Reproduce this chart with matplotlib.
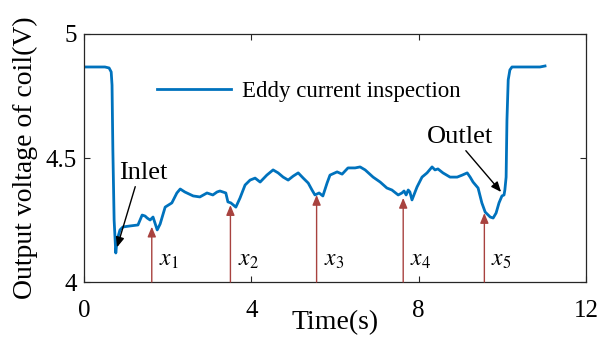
import numpy as np
import matplotlib
matplotlib.use('Agg')
import matplotlib.pyplot as plt

plt.rc('font', family='Liberation Serif')
plt.rc('mathtext', fontset='stix')

# Coil output trace
t = [0.00, 0.50, 0.60, 0.65, 0.67, 0.69, 0.72, 0.76, 0.79, 0.86, 0.93, 1.10,
     1.29, 1.39, 1.46, 1.51, 1.58, 1.65, 1.75, 1.82, 1.94, 2.10, 2.22, 2.30,
     2.41, 2.61, 2.77, 2.94, 3.08, 3.18, 3.25, 3.32, 3.39, 3.44, 3.51, 3.63,
     3.73, 3.85, 3.97, 4.09, 4.21, 4.37, 4.52, 4.64, 4.76, 4.88, 5.00, 5.12,
     5.24, 5.36, 5.45, 5.52, 5.62, 5.71, 5.81, 5.88, 6.05, 6.17, 6.31, 6.48,
     6.60, 6.72, 6.91, 7.08, 7.24, 7.36, 7.51, 7.60, 7.65, 7.70, 7.75, 7.79,
     7.84, 7.96, 8.08, 8.20, 8.32, 8.39, 8.46, 8.58, 8.75, 8.92, 9.04, 9.16,
     9.23, 9.30, 9.42, 9.51, 9.59, 9.71, 9.78, 9.85, 9.92, 9.99, 10.04, 10.06,
     10.09, 10.11, 10.14, 10.18, 10.23, 10.66, 10.90, 11.02]
v = [4.867, 4.867, 4.863, 4.847, 4.794, 4.532, 4.250, 4.117, 4.169, 4.210, 4.222, 4.226,
     4.230, 4.270, 4.266, 4.258, 4.250, 4.262, 4.210, 4.234, 4.302, 4.319, 4.359, 4.375,
     4.363, 4.347, 4.343, 4.359, 4.351, 4.363, 4.367, 4.363, 4.359, 4.323, 4.319, 4.302,
     4.339, 4.391, 4.411, 4.419, 4.403, 4.431, 4.452, 4.440, 4.423, 4.411, 4.427, 4.440,
     4.419, 4.399, 4.371, 4.351, 4.359, 4.347, 4.399, 4.431, 4.444, 4.435, 4.460, 4.460,
     4.464, 4.452, 4.423, 4.403, 4.379, 4.371, 4.351, 4.359, 4.367, 4.351, 4.371, 4.363,
     4.331, 4.383, 4.423, 4.440, 4.464, 4.452, 4.456, 4.440, 4.423, 4.423, 4.431, 4.440,
     4.423, 4.403, 4.379, 4.319, 4.282, 4.262, 4.258, 4.278, 4.319, 4.347, 4.351, 4.371,
     4.423, 4.653, 4.815, 4.855, 4.867, 4.867, 4.867, 4.871]

# Defect positions (arrows)
defect_t = [1.62, 3.50, 5.56, 7.63, 9.57]
defect_v = [4.223, 4.310, 4.351, 4.339, 4.278]
defect_labels = ['$x_1$', '$x_2$', '$x_3$', '$x_4$', '$x_5$']

fig = plt.figure(figsize=(6, 3.42), dpi=100)
ax = fig.add_axes([0.14, 0.1754, 0.8367, 0.7252])

ax.plot(t, v, color='#0072BD', lw=2.0, label='Eddy current inspection')

head = '-|>,head_length=0.6,head_width=0.25'
for xd, yd, lab in zip(defect_t, defect_v, defect_labels):
    ax.annotate('', xy=(xd, yd), xytext=(xd, 4.0),
                arrowprops=dict(arrowstyle=head, color='#A8423F', lw=1.0,
                                shrinkA=0, shrinkB=0, mutation_scale=10))
    ax.text(xd + 0.17, 4.085, lab, fontsize=17, va='center', ha='left')

ax.annotate('Inlet', xy=(0.79, 4.14), xytext=(0.84, 4.44), fontsize=19,
            va='center', ha='left',
            arrowprops=dict(arrowstyle=head, color='black', lw=1.0,
                            shrinkA=0, shrinkB=0, mutation_scale=10,
                            relpos=(0.35, 0.0)))
ax.annotate('Outlet', xy=(9.97, 4.363), xytext=(8.2, 4.585), fontsize=19,
            va='center', ha='left',
            arrowprops=dict(arrowstyle=head, color='black', lw=1.0,
                            shrinkA=0, shrinkB=0, mutation_scale=10,
                            relpos=(0.55, 0.0)))

ax.set_xlim(0, 12)
ax.set_ylim(4, 5)
ax.set_xticks([0, 4, 8, 12])
ax.set_yticks([4, 4.5, 5])
ax.set_yticklabels(['4', '4.5', '5'])
ax.tick_params(direction='in', top=True, right=True, length=4, labelsize=18,
               color='#262626')
ax.tick_params(axis='x', pad=13)
ax.tick_params(axis='y', pad=5)
for s in ax.spines.values():
    s.set_color('#262626')
    s.set_linewidth(0.9)

ax.set_xlabel('Time(s)', fontsize=20)
ax.xaxis.set_label_coords(0.5, -0.115)
ax.set_ylabel('Output voltage of coil(V)', fontsize=20)
ax.yaxis.set_label_coords(-0.092, 0.5)

ax.legend(loc='upper left', bbox_to_anchor=(0.105, 0.895), frameon=False,
          fontsize=16.5, handlelength=3.2, handletextpad=0.5)

fig.savefig('out.png', dpi=100)
